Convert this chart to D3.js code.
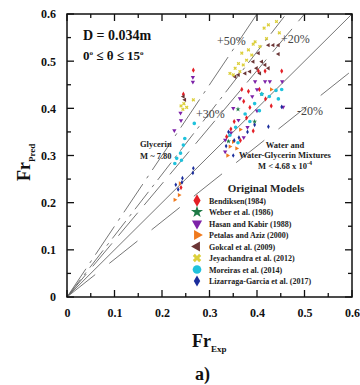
<!DOCTYPE html>
<html>
<head>
<meta charset="utf-8">
<script src="https://cdn.jsdelivr.net/npm/d3@7"></script>
<style>
  body { margin: 0; background: #fff; }
  svg text { font-family: "Liberation Serif", "Times New Roman", serif; }
</style>
</head>
<body>
<div id="chart"></div>
<script>
// Fr predicted vs experimental, D = 0.034 m

const xTicks = [0, 0.1, 0.2, 0.3, 0.4, 0.5, 0.6];
const yTicks = [0, 0.1, 0.2, 0.3, 0.4, 0.5, 0.6];

// [Fr_exp, Fr_pred] pairs
const bendiksen = [[0.266,0.481],[0.245,0.430],[0.240,0.232],[0.403,0.479],[0.417,0.479],[0.452,0.479],
  [0.368,0.440],[0.382,0.436],[0.405,0.440],[0.372,0.415],[0.418,0.420],[0.385,0.402],[0.430,0.405],
  [0.352,0.372],[0.378,0.380],[0.345,0.356],[0.392,0.352],[0.365,0.332],[0.336,0.340]];
const weber = [[0.360,0.398],[0.395,0.372],[0.340,0.330],[0.410,0.430]];
const hasan = [[0.265,0.466],[0.265,0.456],[0.239,0.390],[0.240,0.374],[0.226,0.353],[0.396,0.457],
  [0.417,0.457],[0.427,0.457],[0.453,0.457],[0.364,0.421],[0.390,0.425],[0.350,0.400],[0.455,0.403],
  [0.400,0.395],[0.361,0.375],[0.380,0.360],[0.333,0.333],[0.345,0.348],[0.333,0.308],[0.372,0.338],[0.400,0.440]];
const petalas = [[0.238,0.241],[0.236,0.216],[0.227,0.206],[0.343,0.319],[0.357,0.315],[0.350,0.329],
  [0.430,0.440],[0.338,0.300],[0.365,0.355]];
const gokcal = [[0.245,0.425],[0.248,0.418],[0.424,0.534],[0.434,0.534],[0.445,0.534],[0.403,0.517],
  [0.392,0.499],[0.410,0.499],[0.417,0.492],[0.424,0.485],[0.399,0.485],[0.385,0.478],[0.375,0.474],
  [0.406,0.474],[0.361,0.471],[0.354,0.467],[0.445,0.515]];
const jeyachandra = [[0.240,0.405],[0.246,0.410],[0.252,0.402],[0.244,0.398],[0.266,0.418],[0.441,0.584],
  [0.424,0.577],[0.415,0.570],[0.396,0.541],[0.392,0.536],[0.406,0.531],[0.382,0.524],[0.368,0.517],
  [0.389,0.513],[0.378,0.502],[0.361,0.495],[0.371,0.492],[0.354,0.485],[0.364,0.478],[0.343,0.474],
  [0.350,0.471],[0.447,0.560],[0.420,0.548]];
const moreiras = [[0.268,0.368],[0.248,0.336],[0.245,0.322],[0.239,0.305],[0.231,0.294],[0.227,0.283],
  [0.241,0.290],[0.452,0.440],[0.440,0.438],[0.426,0.425],[0.410,0.430],[0.445,0.420],[0.395,0.410],
  [0.375,0.388],[0.343,0.343],[0.360,0.327],[0.385,0.372],[0.355,0.360],[0.405,0.395]];
const lizarraga = [[0.266,0.273],[0.265,0.263],[0.243,0.252],[0.242,0.243],[0.234,0.228],[0.229,0.238],
  [0.452,0.403],[0.424,0.361],[0.395,0.365],[0.352,0.332],[0.362,0.338],[0.335,0.320],[0.350,0.300],
  [0.380,0.350],[0.340,0.350]];

const modelNames = ["Bendiksen(1984)", "Weber et al. (1986)", "Hasan and Kabir (1988)", "Petalas and Aziz (2000)",
  "Gokcal et al. (2009)", "Jeyachandra et al. (2012)", "Moreiras et al. (2014)", "Lizarraga-Garcia et al. (2017)"];

// error bands through the origin (slopes)
const bandSlopes = [1.5, 1.3, 1.2, 1.0, 0.8];

const series = [
  { data: bendiksen, color: "#e41f26", type: d3.symbolDiamond, rot: 0, scale: 1 },
  { data: weber, color: "#1d7a45", type: d3.symbolStar, rot: 0, scale: 1 },
  { data: hasan, color: "#7d22a8", type: d3.symbolTriangle, rot: 180, scale: 1 },
  { data: petalas, color: "#f07a1e", type: d3.symbolTriangle, rot: 90, scale: 1 },
  { data: gokcal, color: "#6b3636", type: d3.symbolTriangle, rot: -90, scale: 1 },
  { data: jeyachandra, color: "#dccf3a", type: d3.symbolCross, rot: 45, scale: 1 },
  { data: moreiras, color: "#1fc2dc", type: d3.symbolCircle, rot: 0, scale: 1.3 },
  { data: lizarraga, color: "#1a2d9c", type: d3.symbolDiamond, rot: 0, scale: 0.8 }
];

const W = 360, H = 385;
const pL = 67, pR = 352, pT = 14, pB = 297;

const svg = d3.select("#chart").append("svg").attr("width", W).attr("height", H);
svg.append("rect").attr("width", W).attr("height", H).attr("fill", "#fff");

const x = d3.scaleLinear().domain([0, 0.6]).range([pL, pR]);
const y = d3.scaleLinear().domain([0, 0.6]).range([pB, pT]);

// reference lines
const dashes = { 1.5: "34,7,3,7", 1.3: "22,6,3,6", 1.2: "30,10", 1: null, 0.8: "36,18" };
const lines = svg.append("g");
bandSlopes.forEach(s => {
  const xEnd = Math.min(0.6, 0.6 / s);
  lines.append("line")
    .attr("x1", x(0)).attr("y1", y(0))
    .attr("x2", x(xEnd)).attr("y2", y(xEnd * s))
    .attr("stroke", "#666").attr("stroke-width", 0.9)
    .attr("stroke-dasharray", dashes[s]);
});

// data points
const pts = svg.append("g");
series.forEach(sr => {
  const sym = d3.symbol().type(sr.type).size(8 * sr.scale);
  pts.selectAll(null).data(sr.data).enter().append("path")
    .attr("d", sym)
    .attr("transform", d => `translate(${x(d[0])},${y(d[1])}) rotate(${sr.rot})`)
    .attr("fill", sr.color);
});

// frame
svg.append("rect").attr("x", pL).attr("y", pT)
  .attr("width", pR - pL).attr("height", pB - pT)
  .attr("fill", "none").attr("stroke", "#111").attr("stroke-width", 1.5);

// ticks on all sides, pointing inwards
const minor = d3.range(0, 0.601, 0.05);
const tk = svg.append("g").attr("stroke", "#111").attr("stroke-width", 1.3);
minor.forEach((v, i) => {
  const len = i % 2 === 0 ? 7 : 4;
  tk.append("line").attr("x1", x(v)).attr("x2", x(v)).attr("y1", pB).attr("y2", pB - len);
  tk.append("line").attr("x1", x(v)).attr("x2", x(v)).attr("y1", pT).attr("y2", pT + len);
  tk.append("line").attr("y1", y(v)).attr("y2", y(v)).attr("x1", pL).attr("x2", pL + len);
  tk.append("line").attr("y1", y(v)).attr("y2", y(v)).attr("x1", pR).attr("x2", pR - len);
});

const fmt = d => d === 0 ? "0" : d3.format(".1f")(d);
const xAxis = d3.axisBottom(x).tickValues(xTicks).tickSize(0).tickPadding(0).tickFormat(fmt);
svg.append("g").attr("transform", `translate(0,${pB + 11})`).call(xAxis)
  .call(g => g.select(".domain").remove())
  .selectAll("text").attr("font-size", 12).attr("font-weight", "bold").attr("fill", "#111")
  .attr("font-family", "Liberation Serif, serif");

const yAxis = d3.axisLeft(y).tickValues(yTicks).tickSize(0).tickPadding(0).tickFormat(fmt);
svg.append("g").attr("transform", `translate(${pL - 11},0)`).call(yAxis)
  .call(g => g.select(".domain").remove())
  .selectAll("text").attr("font-size", 12).attr("font-weight", "bold").attr("fill", "#111")
  .attr("font-family", "Liberation Serif, serif");

// axis titles
const xt = svg.append("text").attr("x", 192).attr("y", 347).attr("font-weight", "bold").attr("fill", "#111");
xt.append("tspan").attr("font-size", 18).text("Fr");
xt.append("tspan").attr("font-size", 9).attr("dy", 5).text("Exp");

const yt = svg.append("text").attr("transform", "translate(30,181) rotate(-90)")
  .attr("font-weight", "bold").attr("fill", "#111");
yt.append("tspan").attr("font-size", 18).text("Fr");
yt.append("tspan").attr("font-size", 9).attr("dy", 5).text("Pred");

svg.append("text").attr("x", 195).attr("y", 380).attr("font-size", 18).attr("font-weight", "bold")
  .attr("fill", "#111").text("a)");

// annotations
svg.append("text").attr("x", 83).attr("y", 40).attr("font-size", 14).attr("font-weight", "bold")
  .attr("fill", "#111").text("D = 0.034m");
const th = svg.append("text").attr("x", 83).attr("y", 60).attr("font-size", 13).attr("font-weight", "bold").attr("fill", "#111");
th.append("tspan").text("0");
th.append("tspan").attr("font-size", 7).attr("dy", -5).text("o");
th.append("tspan").attr("dy", 5).text(" ≤ θ ≤ 15");
th.append("tspan").attr("font-size", 7).attr("dy", -5).text("o");

const bandLabels = [
  { t: "+50%", x: 217, y: 45 },
  { t: "+20%", x: 281, y: 43 },
  { t: "+30%", x: 196, y: 118 },
  { t: "-20%", x: 297, y: 115 }
];
svg.selectAll(null).data(bandLabels).enter().append("text")
  .attr("x", d => d.x).attr("y", d => d.y).attr("font-size", 12).attr("fill", "#444").text(d => d.t);

const small = (tx, ty, s, anchor) => svg.append("text").attr("x", tx).attr("y", ty)
  .attr("font-size", 8.5).attr("font-weight", "bold").attr("fill", "#222")
  .attr("text-anchor", anchor || "start").text(s);
small(140, 147, "Glycerin");
small(140, 159, "M ~ 7.80");
small(285, 148, "Water and", "middle");
small(285, 158, "Water-Glycerin Mixtures", "middle");
const mt = small(285, 169, "M < 4.68 x 10", "middle");
mt.append("tspan").attr("font-size", 6).attr("dy", -4).text("-4");

// legend
svg.append("text").attr("x", 266).attr("y", 192).attr("text-anchor", "middle").attr("font-size", 11)
  .attr("font-weight", "bold").attr("fill", "#222").text("Original Models");
const lg = svg.append("g");
series.forEach((sr, i) => {
  const ly = 200.5 + i * 11.5;
  lg.append("path")
    .attr("d", d3.symbol().type(sr.type).size(45 * sr.scale))
    .attr("transform", `translate(197,${ly}) rotate(${sr.rot})`)
    .attr("fill", sr.color);
  lg.append("text").attr("x", 209).attr("y", ly + 3).attr("font-size", 8)
    .attr("font-weight", "bold").attr("fill", "#222").text(modelNames[i]);
});
</script>
</body>
</html>
